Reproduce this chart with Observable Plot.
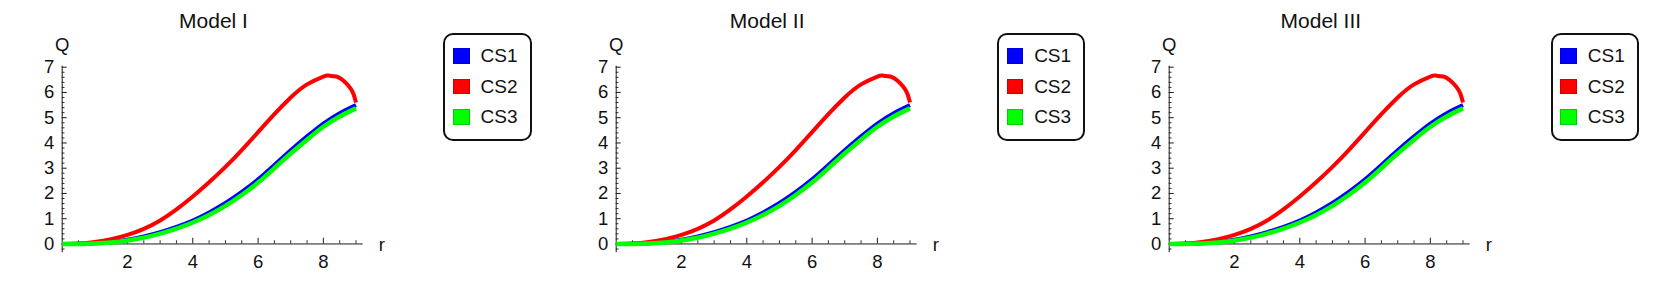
<!DOCTYPE html>
<html>
<head>
<meta charset="utf-8">
<script src="https://cdn.jsdelivr.net/npm/d3@7"></script>
<script src="https://cdn.jsdelivr.net/npm/@observablehq/plot@0.6"></script>
<style>
  html, body { margin: 0; padding: 0; background: #fff; }
  body { font-family: "Liberation Sans", Arial, sans-serif; }
  #root { position: relative; width: 1661px; height: 281px; overflow: hidden; background: #fff; }
  .panel { position: absolute; top: 0; width: 554px; height: 281px; }
  .panel svg { position: absolute; left: 0; top: 0; font-family: "Liberation Sans", Arial, sans-serif; }
  .title { position: absolute; top: 9.5px; left: 0; width: 427px; text-align: center;
           font-size: 21px; line-height: 21px; color: #111; white-space: nowrap; }
  .legend { position: absolute; left: 443.3px; top: 33.3px; width: 88.4px; height: 107.5px;
            box-sizing: border-box; border: 2.2px solid #111; border-radius: 10px; background: #fff; }
  .row { position: absolute; left: 7.8px; height: 16px; width: 76px; }
  .sw { position: absolute; left: 0; top: 0; width: 16.5px; height: 15.5px; box-sizing: border-box;
        border: 1px solid rgba(0,0,0,0.18); }
  .lab { position: absolute; left: 27.4px; top: -1.7px; font-size: 19px; line-height: 19px; color: #111; white-space: nowrap; }
</style>
</head>
<body>
<div id="root"></div>
<script>
// ---- data (the three panels look identical) ----
const models = ["Model I", "Model II", "Model III"];
const seriesNames = ["CS1", "CS2", "CS3"];
const seriesColors = ["#0000ff", "#ff0000", "#00ff00"];

const r = [0, 0.5, 1, 1.5, 2, 2.5, 3, 3.5, 4, 4.5, 5, 5.5, 6, 6.5, 7, 7.5, 8, 8.5, 9];
const cs1 = [0, 0.005, 0.03, 0.08, 0.17, 0.3, 0.47, 0.68, 0.93, 1.25, 1.62, 2.06, 2.56, 3.13, 3.71, 4.26, 4.77, 5.18, 5.5];
const cs3 = [0, 0.003, 0.02, 0.06, 0.14, 0.25, 0.41, 0.61, 0.85, 1.15, 1.51, 1.94, 2.43, 3.0, 3.58, 4.13, 4.64, 5.05, 5.37];

const r2  = [0, 0.5, 1, 1.5, 2, 2.5, 3, 3.5, 4, 4.5, 5, 5.5, 6, 6.5, 7, 7.5, 8, 8.15, 8.4, 8.6, 8.8, 8.92, 9];
const cs2 = [0, 0.02, 0.08, 0.19, 0.36, 0.6, 0.93, 1.37, 1.88, 2.44, 3.05, 3.72, 4.43, 5.14, 5.8, 6.32, 6.63, 6.67, 6.63, 6.48, 6.22, 5.95, 5.6];

const xTicks = [2, 4, 6, 8];
const yTicks = [0, 1, 2, 3, 4, 5, 6, 7];
const xLabel = "r";
const yLabel = "Q";

const xDomain = [0, 9.22];
const yDomain = [-0.35, 7.04];

// minor tick positions
const xMinor = d3.range(1, 19).map(i => i / 2).filter(v => !xTicks.includes(v));
const yMinor = d3.range(-1, 36).filter(i => i % 5 !== 0).map(i => i / 5);

const series = [
  r.map((x, i) => ({r: x, Q: cs1[i]})),
  r2.map((x, i) => ({r: x, Q: cs2[i]})),
  r.map((x, i) => ({r: x, Q: cs3[i]}))
];
const widths = [4, 4, 4.5];

const axisColor = "#1a1a1a";
const root = document.getElementById("root");
const panelW = 1661 / 3;
const fs = 18.5;

models.forEach((title, p) => {
  const panel = document.createElement("div");
  panel.className = "panel";
  panel.style.left = (p * panelW) + "px";
  root.appendChild(panel);

  const svg = Plot.plot({
    width: 554,
    height: 281,
    marginLeft: 61.7,
    marginRight: 191.3,
    marginTop: 65.7,
    marginBottom: 28.7,
    x: {domain: xDomain, axis: null},
    y: {domain: yDomain, axis: null},
    style: {background: "transparent", fontFamily: "Liberation Sans, Arial, sans-serif", fontSize: "18.5px", overflow: "visible", color: "#111"},
    marks: [
      Plot.ruleY([0], {stroke: axisColor, strokeWidth: 1}),
      Plot.ruleX([0], {stroke: axisColor, strokeWidth: 1}),
      Plot.ruleX(xTicks, {x: d => d, y1: () => 0, y2: () => 0, insetBottom: 5.7, stroke: axisColor, strokeWidth: 1}),
      Plot.ruleX(xMinor, {x: d => d, y1: () => 0, y2: () => 0, insetBottom: 3.2, stroke: axisColor, strokeWidth: 0.9}),
      Plot.ruleY(yTicks, {y: d => d, x1: () => 0, x2: () => 0, insetRight: -5, stroke: axisColor, strokeWidth: 1}),
      Plot.ruleY(yMinor, {y: d => d, x1: () => 0, x2: () => 0, insetRight: -2.8, stroke: axisColor, strokeWidth: 0.9}),
      Plot.text(yTicks, {x: () => 0, y: d => d, text: d => String(d), dx: -8, textAnchor: "end", fontSize: fs, fill: "#111"}),
      Plot.text(xTicks, {x: d => d, y: () => 0, text: d => String(d), dy: 18, fontSize: fs, fill: "#111"}),
      Plot.text([yLabel], {x: () => 0, y: () => yDomain[1], text: d => d, dy: -21, fontSize: fs, fill: "#111"}),
      Plot.text([xLabel], {x: () => xDomain[1], y: () => 0, text: d => d, dx: 15.6, dy: 1, textAnchor: "start", fontSize: fs, fill: "#111"}),
      ...series.map((data, k) => Plot.line(data, {
        x: "r", y: "Q", stroke: seriesColors[k], strokeWidth: widths[k],
        curve: "natural", strokeLinecap: "butt", strokeLinejoin: "round"
      }))
    ]
  });
  panel.appendChild(svg);

  const t = document.createElement("div");
  t.className = "title";
  t.textContent = title;
  panel.appendChild(t);

  const leg = document.createElement("div");
  leg.className = "legend";
  seriesNames.forEach((name, k) => {
    const row = document.createElement("div");
    row.className = "row";
    row.style.top = (12.8 + k * 30.5) + "px";
    const sw = document.createElement("div");
    sw.className = "sw";
    sw.style.background = seriesColors[k];
    const lab = document.createElement("span");
    lab.className = "lab";
    lab.textContent = name;
    row.appendChild(sw);
    row.appendChild(lab);
    leg.appendChild(row);
  });
  panel.appendChild(leg);
});
</script>
</body>
</html>
